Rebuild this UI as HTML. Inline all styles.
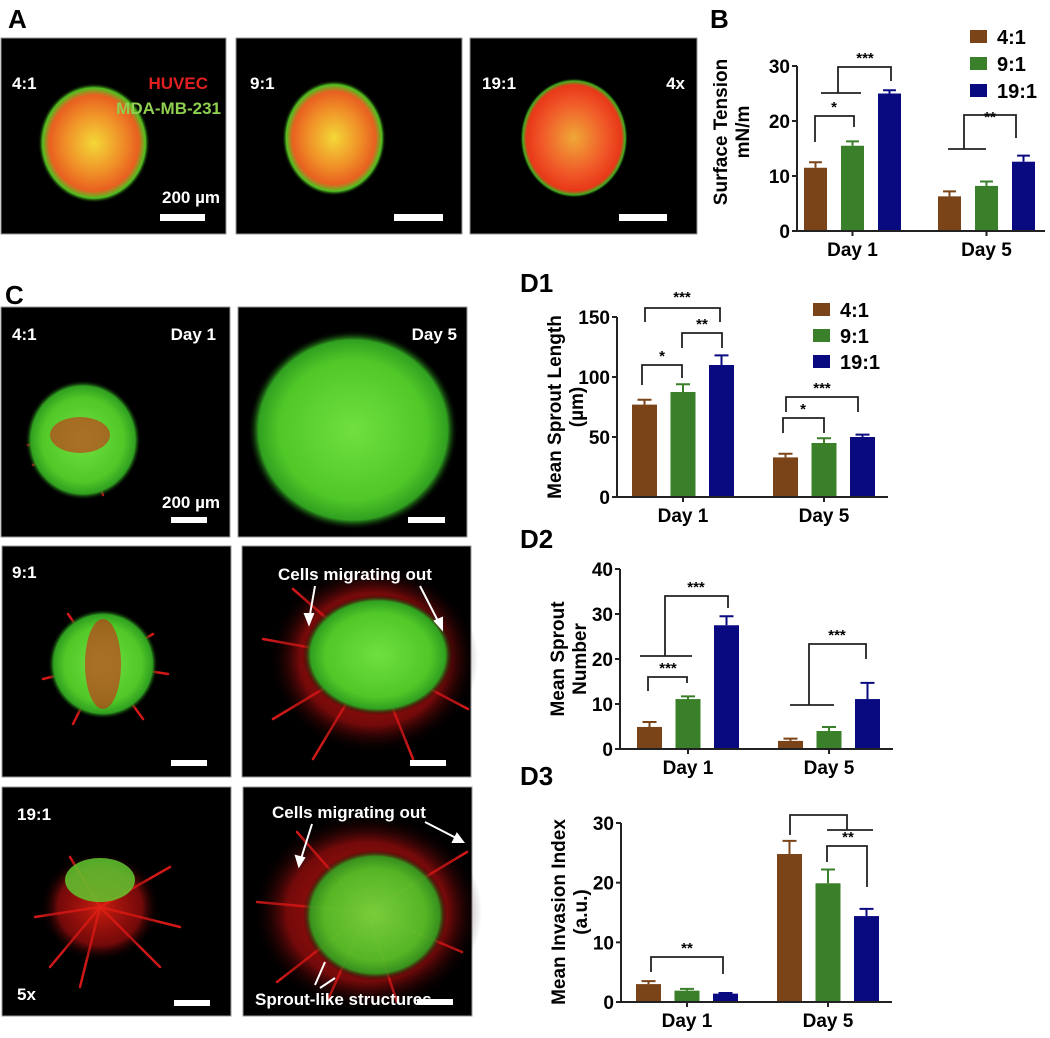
<!DOCTYPE html>
<html><head><meta charset="utf-8"><style>
body{margin:0;background:#fff}
svg{display:block}
text{font-family:"Liberation Sans",Arial,sans-serif;font-weight:bold}
</style></head><body>
<svg id="fig" width="1050" height="1038" viewBox="0 0 1050 1038" xmlns="http://www.w3.org/2000/svg">
<defs>
<radialGradient id="gA" cx="50%" cy="50%" r="50%"><stop offset="0" stop-color="#f4d838"/><stop offset="0.5" stop-color="#f09028"/><stop offset="0.8" stop-color="#e86020"/><stop offset="0.92" stop-color="#50c020"/><stop offset="1" stop-color="#000" stop-opacity="0"/></radialGradient>
<radialGradient id="gA2" cx="50%" cy="50%" r="50%"><stop offset="0" stop-color="#f0a838"/><stop offset="0.6" stop-color="#f05828"/><stop offset="0.88" stop-color="#e83818"/><stop offset="0.95" stop-color="#40b020"/><stop offset="1" stop-color="#000" stop-opacity="0"/></radialGradient>
<radialGradient id="gG" cx="50%" cy="50%" r="50%"><stop offset="0" stop-color="#70e040"/><stop offset="0.7" stop-color="#50c828"/><stop offset="0.9" stop-color="#30a020"/><stop offset="1" stop-color="#000" stop-opacity="0"/></radialGradient>
<radialGradient id="gR" cx="50%" cy="50%" r="50%"><stop offset="0" stop-color="#e02010" stop-opacity="0.9"/><stop offset="0.7" stop-color="#c01010" stop-opacity="0.6"/><stop offset="1" stop-color="#000" stop-opacity="0"/></radialGradient>
</defs>

<g>
<text x="8" y="28" font-size="26">A</text>
<rect x="1" y="38" width="225" height="196" fill="#000" stroke="#999"/>
<rect x="236" y="38" width="226" height="196" fill="#000" stroke="#999"/>
<rect x="470" y="38" width="227" height="196" fill="#000" stroke="#999"/>
<ellipse cx="94" cy="143" rx="56" ry="60" fill="url(#gA)"/>
<ellipse cx="334" cy="138" rx="52" ry="58" fill="url(#gA)"/>
<ellipse cx="574" cy="138" rx="54" ry="60" fill="url(#gA2)"/>
<text x="12" y="89" font-size="17" fill="#fff">4:1</text>
<text x="208" y="89" font-size="17" fill="#e02020" text-anchor="end">HUVEC</text>
<text x="221" y="114" font-size="17" fill="#90d050" text-anchor="end">MDA-MB-231</text>
<text x="220" y="203" font-size="17" fill="#fff" text-anchor="end">200 µm</text>
<rect x="160" y="214" width="45" height="7" fill="#fff"/>
<text x="250" y="89" font-size="17" fill="#fff">9:1</text>
<rect x="394" y="214" width="49" height="7" fill="#fff"/>
<text x="482" y="89" font-size="17" fill="#fff">19:1</text>
<text x="685" y="89" font-size="17" fill="#fff" text-anchor="end">4x</text>
<rect x="619" y="214" width="48" height="7" fill="#fff"/>
</g>

<g>
<text x="5" y="304" font-size="26">C</text>
<rect x="1" y="307" width="229" height="230" fill="#000" stroke="#999"/>
<rect x="238" y="307" width="229" height="230" fill="#000" stroke="#999"/>
<rect x="2" y="546" width="229" height="231" fill="#000" stroke="#999"/>
<rect x="242" y="546" width="229" height="231" fill="#000" stroke="#999"/>
<rect x="2" y="787" width="229" height="229" fill="#000" stroke="#999"/>
<rect x="243" y="787" width="229" height="229" fill="#000" stroke="#999"/>
<g stroke="#d01818" stroke-width="2.5" stroke-linecap="round" fill="none">
<path d="M83 440 l-55 5 M83 440 l-50 25 M83 440 l-40 -35 M83 440 l45 -20 M83 440 l20 55"/>
<path d="M103 664 l-60 15 M103 664 l-35 -50 M103 664 l50 -30 M103 664 l-30 60 M103 664 l40 55 M103 664 l65 10"/>
<path d="M100 907 l-65 10 M100 907 l-30 -50 M100 907 l70 -40 M100 907 l-20 80 M100 907 l60 60 M100 907 l80 20 M100 907 l-50 60"/>
<path d="M373 659 l-110 -20 M373 659 l-100 60 M373 659 l-60 100 M373 659 l40 100 M373 659 l-80 -70 M373 659 l95 50"/>
<path d="M367 912 l-110 -10 M367 912 l-90 70 M367 912 l-40 90 M367 912 l100 -60 M367 912 l-70 -80 M367 912 l95 40 M367 912 l30 90"/>
</g>
<ellipse cx="83" cy="440" rx="58" ry="60" fill="url(#gG)"/>
<ellipse cx="80" cy="435" rx="30" ry="18" fill="#d02818" opacity="0.6"/>
<ellipse cx="353" cy="430" rx="105" ry="100" fill="url(#gG)"/>
<ellipse cx="103" cy="664" rx="55" ry="55" fill="url(#gG)"/>
<ellipse cx="103" cy="664" rx="18" ry="45" fill="#d02818" opacity="0.6"/>
<ellipse cx="373" cy="659" rx="105" ry="95" fill="url(#gR)"/>
<ellipse cx="378" cy="655" rx="75" ry="60" fill="url(#gG)"/>
<ellipse cx="100" cy="907" rx="60" ry="55" fill="url(#gR)"/>
<ellipse cx="100" cy="880" rx="35" ry="22" fill="#60c830" opacity="0.85"/>
<ellipse cx="367" cy="912" rx="115" ry="100" fill="url(#gR)"/>
<ellipse cx="375" cy="915" rx="72" ry="65" fill="url(#gG)" opacity="0.9"/>
<g font-size="17" fill="#fff">
<text x="12" y="340">4:1</text>
<text x="216" y="340" text-anchor="end">Day 1</text>
<text x="457" y="340" text-anchor="end">Day 5</text>
<text x="220" y="508" text-anchor="end">200 µm</text>
<text x="12" y="578">9:1</text>
<text x="278" y="580">Cells migrating out</text>
<text x="17" y="820">19:1</text>
<text x="272" y="818">Cells migrating out</text>
<text x="255" y="1005">Sprout-like structures</text>
<text x="17" y="1000">5x</text>
</g>
<g fill="#fff">
<rect x="171" y="517" width="36" height="6"/><rect x="408" y="517" width="37" height="6"/>
<rect x="171" y="760" width="36" height="6"/><rect x="410" y="760" width="36" height="6"/>
<rect x="174" y="1000" width="36" height="6"/><rect x="417" y="999" width="36" height="6"/>
</g>
<g stroke="#fff" stroke-width="2" fill="#fff">
<line x1="315" y1="586" x2="309" y2="620"/><path d="M305 614 L309 624 L313 614Z"/>
<line x1="420" y1="586" x2="440" y2="625"/><path d="M435 621 L442 629 L442 618Z"/>
<line x1="312" y1="824" x2="300" y2="862"/><path d="M296 856 L299 866 L304 858Z"/>
<line x1="425" y1="822" x2="460" y2="840"/><path d="M453 842 L463 842 L457 834Z"/>
<line x1="315" y1="985" x2="325" y2="962"/><line x1="320" y1="988" x2="335" y2="978"/>
</g>
</g>

<g>
<text x="710" y="28" font-size="26">B</text>
<text x="520" y="292" font-size="26">D1</text>
<text x="520" y="548" font-size="26">D2</text>
<text x="520" y="785" font-size="26">D3</text>
</g>
<g id="charts"></g>
</svg>
<script>
const groups = ["Day 1", "Day 5"];
const seriesNames = ["4:1", "9:1", "19:1"];
const seriesColors = ["#7a4418", "#3a7f2a", "#0a0a80"];
// Panel B: surface tension
const bMean41 = [11.5, 6.3];
const bMean91 = [15.5, 8.2];
const bMean191 = [25.0, 12.6];
const bErr41 = [1.0, 0.9];
const bErr91 = [0.8, 0.8];
const bErr191 = [0.6, 1.1];
const bTicks = [0, 10, 20, 30];
// D1: sprout length
const d1Mean41 = [77, 33];
const d1Mean91 = [87.5, 45];
const d1Mean191 = [110, 50];
const d1Err41 = [4, 3];
const d1Err91 = [6.5, 4];
const d1Err191 = [8, 2];
const d1Ticks = [0, 50, 100, 150];
// D2: sprout number
const d2Mean41 = [4.9, 1.8];
const d2Mean91 = [11.1, 4.0];
const d2Mean191 = [27.5, 11.1];
const d2Err41 = [1.1, 0.5];
const d2Err91 = [0.6, 0.9];
const d2Err191 = [2.0, 3.6];
const d2Ticks = [0, 10, 20, 30, 40];
// D3: invasion index
const d3Mean41 = [3.0, 24.8];
const d3Mean91 = [1.9, 19.9];
const d3Mean191 = [1.4, 14.4];
const d3Err41 = [0.5, 2.2];
const d3Err91 = [0.3, 2.3];
const d3Err191 = [0.1, 1.2];
const d3Ticks = [0, 10, 20, 30];

const NS = "http://www.w3.org/2000/svg";
const root = document.getElementById("charts");
function mk(tag, attrs, parent) {
  const e = document.createElementNS(NS, tag);
  for (const k in attrs) e.setAttribute(k, attrs[k]);
  (parent || root).appendChild(e);
  return e;
}
function chart(c) {
  const g = mk("g", {});
  
  
  const y = v => c.y0 - (v / c.ymax) * (c.y0 - c.ytop);
  const bx = (gi, si) => c.gStart[gi] + si * c.pitch;
  const means = [c.m0, c.m1, c.m2], errs = [c.e0, c.e1, c.e2];
  for (let si = 0; si < 3; si++) {
    for (let gi = 0; gi < groups.length; gi++) {
      const x = bx(gi, si), top = y(means[si][gi]), et = y(means[si][gi] + errs[si][gi]);
      const cx = x + c.bw / 2;
      const eb = mk("path", {d: `M${cx} ${top} V${et} M${cx - c.bw * 0.28} ${et} H${cx + c.bw * 0.28}`, stroke: seriesColors[si], "stroke-width": 2, fill: "none"}, g);
      
      
      const r = mk("rect", {x: x, y: top, width: c.bw, height: c.y0 - top, fill: seriesColors[si]}, g);
      
      
    }
  }
  const ax = mk("path", {d: `M${c.ax} ${c.ytop} V${c.y0} H${c.axEnd}`, stroke: "#222", "stroke-width": 2, fill: "none"}, g);
  
  
  c.ticks.forEach(t => {
    const tk = mk("line", {x1: c.ax - 5, x2: c.ax, y1: y(t), y2: y(t), stroke: "#222", "stroke-width": 2}, g);
    
    
    const tl = mk("text", {x: c.ax - 7, y: y(t) + 7, "font-size": 19, "text-anchor": "end"}, g);
    tl.textContent = t;
    
    
  });
  groups.forEach((gn, gi) => {
    const cx = bx(gi, 1) + c.bw / 2;
    mk("line", {x1: cx, x2: cx, y1: c.y0, y2: c.y0 + 5, stroke: "#222", "stroke-width": 2}, g);
    const xl = mk("text", {x: cx, y: c.y0 + 25, "font-size": 19, "text-anchor": "middle"}, g);
    xl.textContent = gn;
    
    
  });
  const tt = mk("text", {transform: `translate(${c.tx},${c.ty}) rotate(-90)`, "font-size": 19, "text-anchor": "middle"}, g);
  
  
  c.title.forEach((line, i) => {
    const ts = mk("tspan", {x: 0, dy: i ? 22 : 0}, tt);
    ts.textContent = line;
  });
  if (c.ann) {
    const an = mk("path", {d: c.ann, stroke: "#222", "stroke-width": 1.8, fill: "none"}, g);
    
    
  }
  (c.stars || []).forEach(s => {
    const st = mk("text", {x: s[0], y: s[1], "font-size": 15, "text-anchor": "middle"}, g);
    st.textContent = s[2];
    
    
  });
  if (c.leg) {
    seriesNames.forEach((n, i) => {
      const lr = mk("rect", {x: c.leg[0], y: c.leg[1] + i * c.leg[2], width: 17, height: 13, fill: seriesColors[i]}, g);
      
      
      const lt = mk("text", {x: c.leg[0] + 27, y: c.leg[1] + i * c.leg[2] + 14, "font-size": 20}, g);
      lt.textContent = n;
      
      
    });
  }
}
chart({name: "chart-b-surface-tension", m0: bMean41, m1: bMean91, m2: bMean191, e0: bErr41, e1: bErr91, e2: bErr191, ticks: bTicks, ymax: 30,
  ax: 797, axEnd: 1045, y0: 231, ytop: 66, gStart: [804, 938], pitch: 37, bw: 23, tx: 727, ty: 132, title: ["Surface Tension", "mN/m"],
  leg: [970, 30, 27],
  ann: "M815 142 V116 H854 V127 M821 93 H861 M838 93 V67 H891 V81 M948 149 H986 M964 149 V115 H1016 V138",
  stars: [[834, 112, "*"], [865, 63, "***"], [990, 122, "**"]]});
chart({name: "chart-d1-sprout-length", m0: d1Mean41, m1: d1Mean91, m2: d1Mean191, e0: d1Err41, e1: d1Err91, e2: d1Err191, ticks: d1Ticks, ymax: 150,
  ax: 617, axEnd: 888, y0: 497, ytop: 317, gStart: [632, 773], pitch: 38.5, bw: 25, tx: 561, ty: 407, title: ["Mean Sprout Length", "(µm)"],
  leg: [813, 303, 26],
  ann: "M645 322 V308 H720 V322 M682 348 V333 H722 V348 M642 385 V365 H682 V378 M786 412 V397 H858 V412 M783 433 V418 H824 V433",
  stars: [[682, 302, "***"], [702, 329, "**"], [662, 361, "*"], [822, 393, "***"], [803, 414, "*"]]});
chart({name: "chart-d2-sprout-number", m0: d2Mean41, m1: d2Mean91, m2: d2Mean191, e0: d2Err41, e1: d2Err91, e2: d2Err191, ticks: d2Ticks, ymax: 40,
  ax: 620, axEnd: 893, y0: 749, ytop: 569, gStart: [637, 778], pitch: 38.5, bw: 25, tx: 564, ty: 659, title: ["Mean Sprout", "Number"],
  ann: "M640 656 H692 M665 656 V596 H728 V608 M648 691 V677 H687 V683 M790 705 H834 M809 705 V644 H866 V659",
  stars: [[696, 592, "***"], [668, 673, "***"], [837, 640, "***"]]});
chart({name: "chart-d3-invasion-index", m0: d3Mean41, m1: d3Mean91, m2: d3Mean191, e0: d3Err41, e1: d3Err91, e2: d3Err191, ticks: d3Ticks, ymax: 30,
  ax: 621, axEnd: 892, y0: 1002, ytop: 823, gStart: [636, 777], pitch: 38.5, bw: 25, tx: 565, ty: 912, title: ["Mean Invasion Index", "(a.u.)"],
  ann: "M651 972 V957 H723 V974 M790 835 V815 H847 V830 M827 830 H873 M827 862 V846 H867 V887",
  stars: [[687, 953, "**"], [848, 842, "**"]]});
</script>
</body></html>
